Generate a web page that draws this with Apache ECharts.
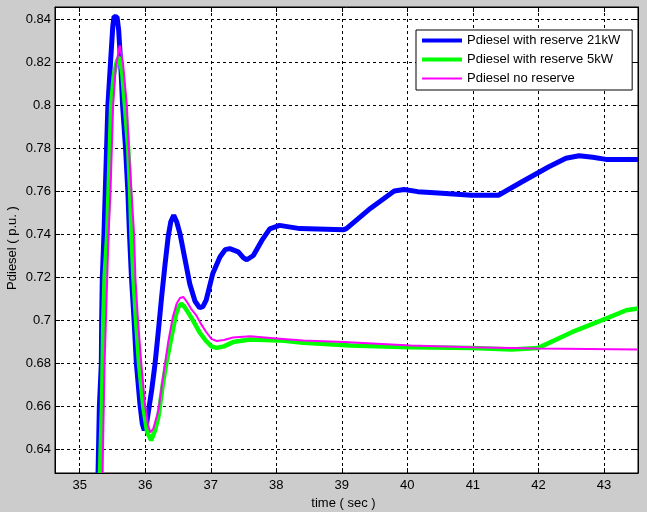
<!DOCTYPE html>
<html>
<head>
<meta charset="utf-8">
<script src="https://cdn.jsdelivr.net/npm/echarts@6/dist/echarts.min.js"></script>
<style>
html,body{margin:0;padding:0;background:#cccccc;}
#chart{width:647px;height:512px;}
</style>
</head>
<body>
<div id="chart"></div>
<script>
// Axis ranges
const xRange = [34.623, 43.52];
const yRange = [0.6291, 0.8459];

const seriesNames = ['Pdiesel with reserve 21kW', 'Pdiesel with reserve 5kW', 'Pdiesel no reserve'];

// Pdiesel with reserve 21kW : [time, value]
const reserve21 = [
  [35.28, 0.6291], [35.30, 0.66], [35.33, 0.68], [35.335, 0.70],
  [35.345, 0.72], [35.37, 0.74], [35.39, 0.76], [35.41, 0.78], [35.43, 0.80],
  [35.47, 0.82], [35.505, 0.837], [35.525, 0.8415], [35.545, 0.8423], [35.57, 0.8412],
  [35.595, 0.835], [35.625, 0.82], [35.655, 0.80], [35.70, 0.78], [35.735, 0.76],
  [35.76, 0.74], [35.79, 0.72], [35.83, 0.70], [35.865, 0.68], [35.92, 0.661],
  [35.955, 0.652], [35.985, 0.649], [36.02, 0.652], [36.06, 0.66], [36.10, 0.668],
  [36.15, 0.68], [36.20, 0.695], [36.25, 0.711], [36.30, 0.7255], [36.35, 0.739],
  [36.39, 0.746], [36.435, 0.749], [36.48, 0.746], [36.53, 0.7405], [36.60, 0.7296],
  [36.68, 0.717], [36.76, 0.709], [36.83, 0.706], [36.88, 0.7065], [36.93, 0.7095],
  [37.03, 0.7218], [37.14, 0.7296], [37.22, 0.733], [37.29, 0.7335], [37.42, 0.732],
  [37.50, 0.7292], [37.55, 0.7283], [37.65, 0.7303], [37.78, 0.7373], [37.90, 0.7427],
  [38.05, 0.7443], [38.36, 0.7428], [39.03, 0.7423], [39.07, 0.7428], [39.44, 0.7523],
  [39.80, 0.7603], [39.95, 0.761], [40.16, 0.760], [40.47, 0.7594], [40.98, 0.7583],
  [41.39, 0.7583], [41.75, 0.7646], [42.16, 0.7716], [42.42, 0.7755], [42.62, 0.7767],
  [42.83, 0.776], [43.03, 0.775], [43.52, 0.775]
];

// Pdiesel with reserve 5kW
const reserve5 = [
  [35.31, 0.6291], [35.32, 0.64], [35.34, 0.66], [35.35, 0.68], [35.36, 0.70],
  [35.38, 0.72], [35.42, 0.74], [35.44, 0.76], [35.46, 0.78], [35.48, 0.80],
  [35.52, 0.814], [35.57, 0.821], [35.61, 0.8226], [35.65, 0.815], [35.69, 0.80],
  [35.74, 0.78], [35.77, 0.76], [35.79, 0.74], [35.82, 0.72], [35.86, 0.70],
  [35.905, 0.68], [35.97, 0.66], [36.03, 0.648], [36.09, 0.6443], [36.15, 0.649],
  [36.20, 0.6552], [36.27, 0.6707], [36.32, 0.68], [36.42, 0.6955], [36.47, 0.703],
  [36.51, 0.7065], [36.55, 0.7078], [36.59, 0.7068], [36.64, 0.7045], [36.73, 0.7],
  [36.83, 0.6945], [36.93, 0.6905], [37.01, 0.6880], [37.09, 0.6873], [37.20, 0.6880],
  [37.34, 0.690], [37.60, 0.6912], [38.05, 0.6908], [38.41, 0.6897], [39.13, 0.6884],
  [40.05, 0.6876], [40.98, 0.6872], [41.59, 0.6866], [42.00, 0.6873], [42.51, 0.6946],
  [43.03, 0.7009], [43.34, 0.7048], [43.52, 0.7056]
];

// Pdiesel no reserve
const noReserve = [
  [35.35, 0.6291], [35.355, 0.64], [35.38, 0.68], [35.40, 0.70], [35.42, 0.72],
  [35.44, 0.74], [35.47, 0.76], [35.49, 0.78], [35.51, 0.80], [35.55, 0.818],
  [35.61, 0.828], [35.66, 0.82], [35.72, 0.80], [35.75, 0.78], [35.79, 0.76],
  [35.83, 0.74], [35.85, 0.72], [35.89, 0.70], [35.94, 0.68], [36.00, 0.66],
  [36.045, 0.651], [36.08, 0.648], [36.12, 0.6495], [36.20, 0.658], [36.27, 0.673],
  [36.35, 0.690], [36.42, 0.7015], [36.48, 0.708], [36.53, 0.7105], [36.58, 0.711],
  [36.63, 0.709], [36.70, 0.7055], [36.78, 0.7024], [36.86, 0.698], [36.93, 0.6947],
  [37.01, 0.6915], [37.09, 0.6905], [37.20, 0.6910], [37.34, 0.6921], [37.60, 0.6927],
  [38.05, 0.6916], [38.41, 0.6907], [39.03, 0.690], [40.05, 0.6884], [40.98, 0.6876],
  [41.59, 0.6873], [42.00, 0.687], [43.52, 0.6866]
];

const FONT = 'Liberation Sans, Arial, sans-serif';
const chart = echarts.init(document.getElementById('chart'), null, {renderer: 'canvas'});

const gridLine = {show: true, lineStyle: {color: '#000', width: 1, type: [3, 3]}};
const tickIn = {show: true, inside: true, length: 5, lineStyle: {color: '#000'}};

const option = {
  backgroundColor: '#cccccc',
  animation: false,
  grid: {left: 55, top: 7, right: 9, bottom: 39, containLabel: false, outerBoundsMode: 'none',
         show: true, backgroundColor: '#ffffff', borderColor: '#000', borderWidth: 1},
  legend: {
    orient: 'vertical',
    left: 416, top: 30,
    backgroundColor: '#ffffff',
    borderColor: '#000', borderWidth: 1, borderRadius: 0,
    padding: [4, 12, 5, 6],
    itemWidth: 40, itemHeight: 12, itemGap: 6,
    textStyle: {fontFamily: FONT, fontSize: 13, color: '#000'},
    data: [
      {name: seriesNames[0], icon: 'path://M0,0H40V4H0Z', itemStyle: {color: '#0000ff'}},
      {name: seriesNames[1], icon: 'path://M0,0H40V4H0Z', itemStyle: {color: '#00ff00'}},
      {name: seriesNames[2], icon: 'path://M0,0H40V2H0Z', itemStyle: {color: '#ff00ff'}}
    ]
  },
  xAxis: [
    {
      type: 'value', min: xRange[0], max: xRange[1], splitNumber: 9,
      name: 'time ( sec )', nameLocation: 'middle', nameGap: 24, nameMoveOverlap: false,
      nameTextStyle: {fontFamily: FONT, fontSize: 13, color: '#000', padding: [0, 6, 0, 0]},
      axisLine: {show: true, lineStyle: {color: '#000'}},
      axisTick: tickIn,
      axisLabel: {fontFamily: FONT, fontSize: 13, color: '#000', margin: 6, showMinLabel: false, showMaxLabel: false},
      splitLine: gridLine
    },
    {
      type: 'value', min: xRange[0], max: xRange[1], splitNumber: 9, position: 'top',
      axisLine: {show: true, lineStyle: {color: '#000'}},
      axisTick: tickIn, axisLabel: {show: false}, splitLine: {show: false}
    }
  ],
  yAxis: [
    {
      type: 'value', min: yRange[0], max: yRange[1], splitNumber: 10,
      name: 'Pdiesel ( p.u. )', nameLocation: 'middle', nameGap: 36, nameRotate: 90, nameMoveOverlap: false,
      nameTextStyle: {fontFamily: FONT, fontSize: 13, color: '#000', padding: [0, 16, 0, 0]},
      axisLine: {show: true, lineStyle: {color: '#000'}},
      axisTick: tickIn,
      axisLabel: {fontFamily: FONT, fontSize: 13, color: '#000', margin: 4, showMinLabel: false, showMaxLabel: false},
      splitLine: gridLine
    },
    {
      type: 'value', min: yRange[0], max: yRange[1], splitNumber: 10, position: 'right',
      axisLine: {show: true, lineStyle: {color: '#000'}},
      axisTick: tickIn, axisLabel: {show: false}, splitLine: {show: false}
    }
  ],
  series: [
    {name: seriesNames[0], type: 'line', data: reserve21, symbol: 'none', clip: true,
     lineStyle: {color: '#0000ff', width: 5}, itemStyle: {color: '#0000ff'}},
    {name: seriesNames[1], type: 'line', data: reserve5, symbol: 'none', clip: true,
     lineStyle: {color: '#00ff00', width: 4.5}, itemStyle: {color: '#00ff00'}},
    {name: seriesNames[2], type: 'line', data: noReserve, symbol: 'none', clip: true,
     lineStyle: {color: '#ff00ff', width: 2}, itemStyle: {color: '#ff00ff'}}
  ]
};
chart.setOption(option);
</script>
</body>
</html>
